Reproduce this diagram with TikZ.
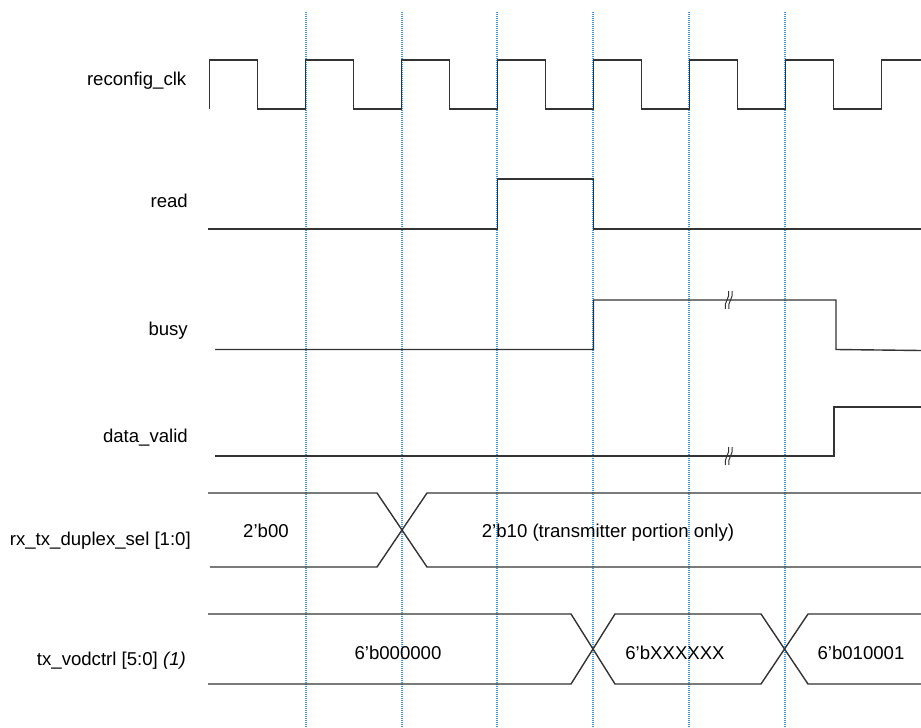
\documentclass[tikz,border=0pt]{standalone}
\usepackage{fontspec}
\setmainfont{Liberation Sans}
\usepackage{tikz}
\definecolor{tickblue}{RGB}{70,150,215}

\begin{document}
\begin{tikzpicture}[x=1pt, y=-1pt, every node/.style={font=\fontsize{18.6}{22}\selectfont, inner sep=0pt}, sig/.style={draw=black!80, line width=1.4pt}, tick/.style={draw=tickblue, line width=1.2pt, dash pattern=on 1pt off 1pt}, brk/.style={draw=black!80, line width=1pt}, lbl/.style={anchor=base east}, val/.style={anchor=base}]
	\useasboundingbox (0,0) rectangle (921,728);
	\foreach \x in {306,402,497,593,689,785} {\draw[tick] (\x,12) -- (\x,728);}
	\draw[sig] (209.5,109) foreach \k in {0,...,6} {-- ++(0,-49) -- ++(48,0) -- ++(0,49) -- ++(48,0)} -- ++(0,-49) -- (921,60);
	\draw[sig] (208,229) -- (497.5,229) -- (497.5,179) -- (593.5,179) -- (593.5,229) -- (921,229);
	\draw[sig] (215,349.5) -- (593.5,349.5) -- (593.5,300) -- (836,300) -- (836,349.5) -- (921,350.5);
	\draw[sig] (215,456) -- (834,456) -- (834,407) -- (921,407);
	\foreach \y in {300,456} \foreach \d in {0,3.5} {\draw[brk] (725.5+\d,\y+9) .. controls (723+\d,\y+3) and (731+\d,\y-3) .. (728.5+\d,\y-9);}
	\draw[sig] (208,493) -- (377,493) -- (427,567) -- (921,567);
	\draw[sig] (210,567) -- (377,567) -- (427,493) -- (921,493);
	\draw[sig] (208,614) -- (571,614) -- (615,684) -- (761,684) -- (808,614) -- (921,614);
	\draw[sig] (208,684) -- (571,684) -- (615,614) -- (761,614) -- (808,684) -- (921,684);
	\node[lbl] (clk) at (186.5,85) {reconfig\_clk};
	\node[lbl] (rd) at (188,207.5) {read};
	\node[lbl] (bsy) at (188,335) {busy};
	\node[lbl] (dv) at (188,442.5) {data\_valid};
	\node[lbl] (dup) at (191,545) {rx\_tx\_duplex\_sel [1:0]};
	\node[lbl] (vod) at (186,665) {tx\_vodctrl [5:0] \textit{(1)}};
	\node[val] (d00) at (266,537.5) {2’b00};
	\node[val] (d10) at (608,537.5) {2’b10 (transmitter portion only)};
	\node[val] (v00) at (398,659) {6’b000000};
	\node[val] (vxx) at (675,659) {6’bXXXXXX};
	\node[val] (v01) at (861,659) {6’b010001};
\end{tikzpicture}
\end{document}
